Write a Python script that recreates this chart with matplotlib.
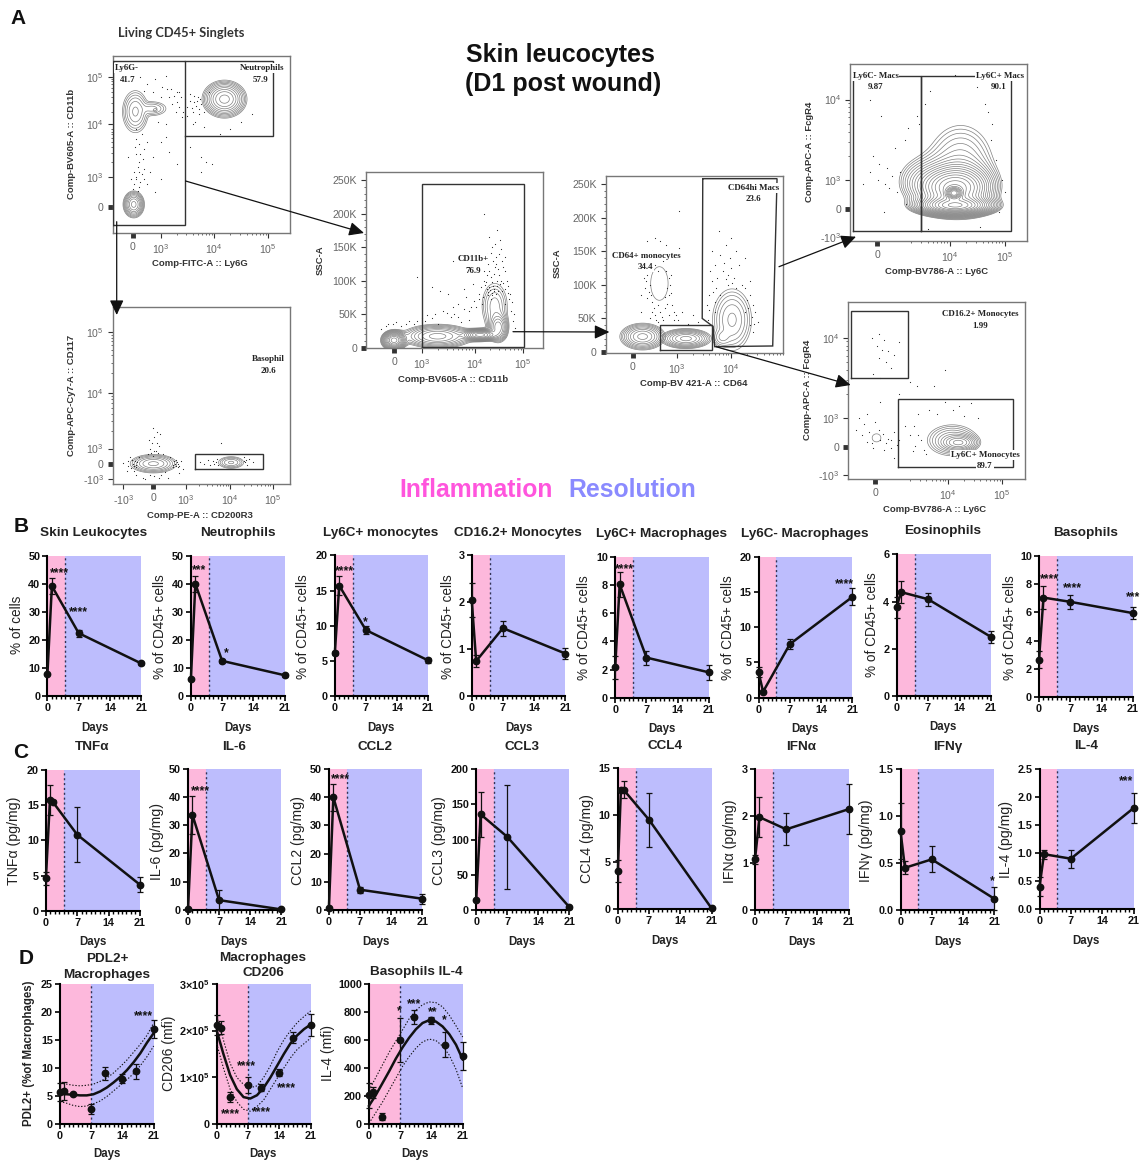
import numpy as np
import matplotlib
matplotlib.use("Agg")
import matplotlib.pyplot as plt
from matplotlib.ticker import FixedLocator

plt.rcParams['font.family'] = ['Liberation Sans', 'DejaVu Sans']
plt.rcParams['mathtext.default'] = 'regular'

W, H = 1142, 1162
PINK = '#fdb8dc'
BLUE = '#bdbdfd'
DARK = '#111111'

# ---------- panels B and C: time courses ----------
days = [0, 1, 7, 21]

skin_val = [7.8, 39.3, 22.5, 11.7]
skin_err = [0.3, 3.0, 1.2, 0.5]
neut_val = [6.2, 40, 12.6, 7.5]
neut_err = [0.3, 2.8, 0.6, 0.5]
mono_val = [6.1, 15.7, 9.4, 5.1]
mono_err = [0.3, 1.3, 0.6, 0.4]
cd16_val = [2.05, 0.75, 1.45, 0.91]
cd16_err = [0.37, 0.13, 0.16, 0.12]
macp_val = [2.15, 8.05, 2.85, 1.8]
macp_err = [0.8, 0.9, 0.5, 0.55]
macn_val = [3.6, 0.85, 7.6, 14.3]
macn_err = [0.7, 0.2, 0.7, 1.2]
eos_val = [3.75, 4.4, 4.1, 2.5]
eos_err = [0.45, 0.45, 0.27, 0.27]
baso_val = [2.65, 7.05, 6.75, 5.95]
baso_err = [0.6, 0.8, 0.5, 0.42]

tnf_days = [0, 0.9, 1.5, 7, 21]
tnf_val = [4.6, 15.7, 15.5, 10.8, 3.7]
tnf_err = [0.9, 2.1, 0.2, 3.9, 1.1]
il6_val = [0.1, 33.7, 3.4, 0.1]
il6_err = [0.1, 6.8, 3.5, 0.3]
ccl2_val = [0.8, 40, 7.2, 4]
ccl2_err = [0.2, 4.8, 1.1, 1.8]
ccl3_val = [14, 136, 104, 4]
ccl3_err = [1, 32, 74, 2]
ccl4_days = [0, 0.7, 1.3, 7, 21]
ccl4_val = [4, 12.7, 12.7, 9.5, 0.05]
ccl4_err = [1.2, 0.2, 0.9, 2.9, 0.1]
ifna_val = [1.08, 1.98, 1.72, 2.15]
ifna_err = [0.1, 0.42, 0.34, 0.53]
ifng_val = [0.84, 0.45, 0.54, 0.12]
ifng_err = [0.3, 0.07, 0.14, 0.12]
il4_val = [0.4, 0.98, 0.9, 1.8]
il4_err = [0.17, 0.08, 0.16, 0.27]

# ---------- panel D: time courses with fit ----------
d_days = [0, 1, 3, 7, 10, 14, 17, 21]
fit_days = [0, 1.5, 3, 4.5, 6, 7.5, 9, 10.5, 12, 13.5, 15, 16.5, 18, 19.5, 21]

pdl2_val = [5.7, 5.8, 5.4, 2.6, 9, 8.1, 9.4, 16.9]
pdl2_err = [1.6, 1.6, 0.2, 0.9, 1.1, 0.8, 1.3, 1.6]
pdl2_fit = [5.4, 5.3, 5.2, 5.1, 5.1, 5.3, 5.8, 6.5, 7.4, 8.4, 9.6, 11, 12.6, 14.5, 16.2]
pdl2_hi = [7.3, 7.1, 6.9, 6.8, 6.9, 7.1, 7.6, 8.2, 9.1, 10.2, 11.4, 12.8, 14.2, 15.8, 18]
pdl2_lo = [4.0, 3.7, 3.3, 3.1, 3.2, 3.6, 4.1, 4.9, 5.9, 6.9, 7.9, 9.0, 10.4, 12, 13.9]

cd206_val = [2.12e5, 2.06e5, 0.58e5, 0.83e5, 0.78e5, 1.1e5, 1.85e5, 2.12e5]
cd206_err = [0.22e5, 0.14e5, 0.1e5, 0.17e5, 0.07e5, 0.08e5, 0.12e5, 0.23e5]
cd206_fit = [2.0e5, 1.5e5, 1.05e5, 0.75e5, 0.58e5, 0.55e5, 0.62e5, 0.78e5, 1.0e5, 1.25e5, 1.5e5, 1.73e5, 1.9e5, 2.03e5, 2.13e5]
cd206_hi = [2.3e5, 1.8e5, 1.3e5, 1.0e5, 0.85e5, 0.78e5, 0.82e5, 1.0e5, 1.25e5, 1.55e5, 1.8e5, 2.0e5, 2.17e5, 2.3e5, 2.42e5]
cd206_lo = [1.72e5, 1.2e5, 0.75e5, 0.48e5, 0.32e5, 0.28e5, 0.38e5, 0.52e5, 0.75e5, 0.98e5, 1.2e5, 1.42e5, 1.6e5, 1.72e5, 1.84e5]

bil4_val = [205, 225, 50, 600, 765, 740, 565, 485]
bil4_err = [90, 40, 25, 155, 50, 25, 88, 100]
bil4_fit = [130, 205, 290, 375, 465, 545, 615, 675, 720, 740, 730, 695, 640, 565, 460]
bil4_hi = [240, 330, 420, 510, 590, 670, 750, 810, 850, 870, 865, 835, 775, 700, 620]
bil4_lo = [5, 80, 155, 240, 325, 410, 480, 540, 585, 605, 595, 555, 490, 390, 255]

# ---------- panel A: flow cytometry dots ----------
p1_dots = [(2.45,4.9),(2.62,5.0),(2.75,4.85),(2.9,4.95),(3.02,4.8),(3.1,5.02),(3.2,4.75),(3.3,4.7),(3.38,4.6),
           (3.45,4.55),(3.5,4.4),(3.55,4.65),(3.6,4.3),(3.62,4.5),(3.7,4.6),(3.72,4.25),(3.15,4.6),(3.22,4.45),
           (3.28,4.3),(3.35,4.4),(3.4,4.2),(2.55,3.75),(2.7,3.55),(2.85,3.4),(3.0,3.7),(3.15,3.5),(3.3,3.25),
           (2.4,3.4),(2.6,3.3),(2.5,3.1),(2.55,3.0),(2.62,2.9),(2.58,3.2),(2.5,2.85),(2.65,3.05),(2.7,3.15),
           (2.8,3.1),(2.55,3.45),(2.52,3.6),(2.6,3.65),(2.6,2.8),(2.48,2.75),(2.55,2.95),(2.75,2.85),(3.0,2.95),
           (3.1,3.8),(3.55,3.6),(3.75,3.4),(3.95,3.25),(3.65,4.1),(3.8,4.0),(4.1,3.85),(4.3,3.95),(4.5,4.1),
           (3.6,4.05),(3.9,4.7),(3.75,4.45),(4.7,4.25),(3.8,4.3),(2.9,2.7),(3.75,3.1),(3.85,3.3),
           (3.55,4.52),(3.58,4.38),(3.62,4.62),(3.66,4.42),(3.68,4.52),(3.72,4.35),(3.74,4.55),(3.5,4.22),(3.42,4.3),
           (3.3,4.5),(3.25,4.62),(3.35,4.7),(3.12,4.75),(3.0,4.6),(2.85,4.7),(2.7,4.72),(2.95,4.1),(3.1,4.05),
           (2.55,3.95),(2.65,3.85),(2.75,3.7),(2.62,3.45),(2.68,3.35),(2.6,3.1),(2.7,2.95),(2.58,2.72),(2.45,2.95)]
p2_dots = [(4.2,200),(4.3,165),(4.45,175),(4.5,160),(4.35,150),(4.25,140),(4.42,135),(4.55,130),(4.6,115),
           (4.4,120),(4.3,115),(4.2,100),(4.35,98),(4.5,95),(4.65,92),(4.25,88),(4.38,85),(4.45,100),(4.55,85),
           (4.7,80),(4.1,80),(4.0,70),(3.85,75),(3.7,65),(3.6,60),(3.5,80),(3.35,85),(3.2,90),(3.4,55),(3.25,50),
           (3.1,48),(3.0,44),(2.9,40),(2.75,40),(2.6,33),(2.45,35),(2.3,32),(3.7,45),(3.9,55),(4.05,60),(4.15,65),
           (4.6,65),(4.72,55),(4.75,40),(3.55,45),(3.8,88),(3.98,95),(4.1,110),(4.28,125),(4.18,75),(4.32,72),
           (4.28,78),(4.35,82),(4.3,90),(4.33,105),(4.24,98),(3.6,130),(2.9,105),(3.3,35),(2.5,38),
           (4.22,94),(4.27,83),(4.31,86),(4.34,78),(4.36,92),(4.39,88),(4.42,80),(4.44,92),(4.47,84),(4.49,108),
           (4.52,100),(4.57,96),(4.6,88),(4.63,100),(4.66,82),(4.68,72),(4.38,110),(4.42,125),(4.36,130),(4.46,118),
           (4.48,140),(4.52,148),(4.4,155),(4.32,142),(4.56,120),(4.6,135),(4.26,108),(4.2,115),(4.14,90),(4.1,72),
           (3.95,60),(3.8,58),(3.62,50),(3.48,52),(3.2,44),(3.05,40),(2.85,36),(2.7,35),(2.2,28),(2.35,36),
           (4.74,68),(4.78,50),(4.8,30),(3.9,42),(3.75,38)]
p3_dots = [(2.45,165),(2.6,170),(2.7,165),(2.8,160),(2.55,150),(2.7,150),(2.85,145),(3.05,155),(2.45,140),
           (2.6,130),(2.75,135),(2.4,110),(2.5,100),(2.48,90),(2.55,75),(2.65,70),(2.78,82),(2.82,95),(2.86,110),
           (2.9,88),(2.95,60),(2.85,55),(2.75,48),(2.65,45),(2.95,48),(3.1,60),(3.2,42),(3.3,55),(3.4,45),
           (2.35,60),(2.5,50),(3.05,210),(3.78,180),(3.65,150),(3.7,130),(3.8,145),(3.9,160),(4.0,170),(4.1,150),
           (3.85,120),(4.0,125),(4.15,130),(4.25,140),(4.35,105),(4.25,95),(4.35,85),(4.4,70),(4.45,60),(4.5,45),
           (3.65,105),(3.75,110),(3.6,85),(3.55,70),(3.7,75),(3.95,100),(4.05,110),(4.25,60),(4.35,40),(4.4,30),
           (3.58,48),(3.7,60),(2.65,120),(2.5,120),(2.35,85),
           (2.42,95),(2.44,105),(2.46,115),(2.52,85),(2.58,65),(2.6,55),(2.7,60),(2.72,52),(2.78,65),(2.82,72),
           (2.86,85),(2.88,100),(2.9,115),(2.8,120),(2.92,70),(2.98,55),(3.02,48),(2.55,60),(2.45,80),(2.62,48),
           (3.9,108),(3.95,115),(4.02,102),(4.1,95),(4.2,100),(4.3,78),(4.32,66),(4.38,52),(4.42,42),(3.6,62),
           (3.66,90),(3.72,95),(3.8,85),(3.62,120),(3.88,132),(3.98,140)]
p4_dots = [(2.6,3.3),(2.72,3.2),(2.55,3.1),(2.7,3.0),(2.82,2.95),(2.9,2.9),(2.42,2.95),(2.75,3.8),(2.55,4.0),
           (3.0,3.4),(3.18,3.5),(3.25,3.65),(2.85,3.15),(2.95,3.05),(3.05,2.85),(3.1,3.1),(3.2,2.7),(3.55,3.95),
           (3.65,4.1),(4.1,4.3),(4.5,4.15),(4.7,3.85),(4.75,3.5),(4.85,3.25),(4.95,3.0),(4.9,2.6),(4.65,3.95),
           (3.4,3.8),(3.45,3.7),(4.78,3.7),(5.0,2.85),(2.8,2.6),(3.6,2.4),(4.55,2.42)]
p5_dots = [(2.6,4.0),(2.72,4.05),(2.82,3.97),(2.68,3.9),(2.78,3.85),(2.9,3.84),(3.0,3.78),(2.72,3.75),(2.85,3.7),
           (2.95,3.62),(3.1,3.95),(2.62,3.55),(2.75,3.5),(3.3,3.45),(3.42,3.4),(3.95,3.6),(3.75,3.4),(2.5,3.05),
           (2.65,2.95),(2.35,3.0),(2.45,2.92),(2.3,2.85),(2.55,2.82),(2.75,2.72),(2.85,2.68),(2.95,2.62),(3.1,2.72),
           (3.0,2.82),(2.5,2.7),(2.42,2.78),(2.62,2.62),(3.3,2.78),(3.4,2.65),(3.5,2.72),(3.55,2.6),(3.2,2.9),
           (3.6,2.55),(3.45,3.05),(3.65,3.1),(3.8,3.05),(3.95,3.2),(4.1,3.1),(4.3,3.02),(4.55,3.0),(4.2,3.15),
           (4.42,3.18),(3.1,3.3),(2.75,3.2),(3.0,2.5),
           (2.72,2.85),(2.8,2.8),(2.9,2.74),(2.95,2.72),(3.05,2.66),(2.6,2.68),(2.82,2.6),(3.35,2.58),(3.45,2.78),
           (3.38,2.9)]
p6_dots = [(1.6,2.75),(1.72,2.7),(1.8,2.8),(1.68,2.62),(1.85,2.62),(1.95,2.85),(1.9,2.55),(2.05,2.5),(2.15,2.9),
           (2.2,3.0),(2.25,3.1),(2.3,3.2),(2.35,3.1),(2.28,3.35),(2.4,3.05),(2.3,2.95),(2.4,2.5),(2.5,2.9),
           (2.55,2.6),(2.65,2.85),(2.72,2.72),(2.78,2.8),(2.82,2.68),(2.85,2.58),(2.9,2.78),(2.95,2.65),(2.35,3.28),
           (2.18,3.15),(2.42,3.25),(1.75,2.85),(2.1,2.48),(2.6,2.5),(3.33,2.76),(3.42,2.74),(3.5,2.8),(3.55,2.72),
           (3.62,2.78),(3.7,2.82),(4.3,2.78),(4.38,2.72),(4.5,2.76),(4.42,2.82),(3.8,3.1),(4.32,2.85),
           (1.82,2.74),(1.84,2.7),(1.86,2.78),(1.88,2.72),(1.9,2.68),(1.78,2.66),(1.92,2.76),(1.7,2.78),(2.74,2.78),
           (2.76,2.74),(2.78,2.7),(2.8,2.76),(2.72,2.68),(2.84,2.74),(2.86,2.7),(2.22,2.92),(2.26,2.88),(2.34,2.95),
           (2.38,2.92),(2.3,2.52),(2.2,2.54),(2.46,2.55),(3.64,2.74),(3.68,2.76),(3.72,2.72),(4.34,2.76),(4.36,2.8)]


def axes_px(fig, x0, y0, x1, y1):
    return fig.add_axes([x0 / W, 1 - y1 / H, (x1 - x0) / W, (y1 - y0) / H])


def stars(ax, marks):
    for x, y, s in marks:
        ax.annotate(s, (x, y), xytext=(0, -2.5), textcoords='offset points', ha='center', va='center',
                    fontsize=8.8, fontweight='bold', color=DARK, annotation_clip=False, zorder=6)


def timecourse(fig, box, x, val, err, ymax, yticks, cut=4, marks=(), ylab=None, fit=None):
    ax = axes_px(fig, *box)
    ax.axvspan(0, cut, color=PINK, lw=0, zorder=0)
    ax.axvspan(cut, 21, color=BLUE, lw=0, zorder=0)
    ax.axvline(cut, color='#333355', lw=1, ls=(0, (1.5, 2)), zorder=1)
    ax.set_xlim(0, 21)
    ax.set_ylim(0, ymax)
    if fit is None:
        ax.plot(x, val, color=DARK, lw=1.8, clip_on=False, zorder=4)
    else:
        fx, fm, fh, fl = fit
        ax.plot(fx, fm, color=DARK, lw=1.8, clip_on=False, zorder=4)
        ax.plot(fx, fh, color=DARK, lw=0.8, ls=(0, (1.2, 1.6)), zorder=3)
        ax.plot(fx, fl, color=DARK, lw=0.8, ls=(0, (1.2, 1.6)), zorder=3)
    ax.errorbar(x, val, yerr=err, fmt='o', color=DARK, ms=4.6, elinewidth=0.9, capsize=2, capthick=0.9,
                clip_on=False, zorder=5)
    for line in ax.lines + list(ax.collections):
        line.set_clip_on(False)
    for s in ['top', 'right']:
        ax.spines[s].set_visible(False)
    ax.spines['left'].set_linewidth(1.5)
    ax.spines['bottom'].set_linewidth(1.5)
    ax.set_xticks([0, 7, 14, 21])
    ax.xaxis.set_minor_locator(FixedLocator([i for i in range(22) if i % 7]))
    ax.set_yticks(yticks)
    if ylab is not None:
        ax.set_yticklabels(ylab)
    ax.tick_params(which='major', length=3.6, width=1.2, labelsize=7.8, pad=1.5)
    ax.tick_params(axis='x', which='minor', length=2.2, width=1)
    for lb in ax.get_xticklabels() + ax.get_yticklabels():
        lb.set_fontweight('bold')
        lb.set_color(DARK)
    stars(ax, marks)
    return ax


def ticks_minor(positions):
    out = []
    for d in positions:
        out += [d + np.log10(k) for k in range(2, 10)]
    return out


def flow_axes(fig, box, xlim, ylim, xticks, xlabels, yticks, ylabels, xminor, yminor):
    ax = axes_px(fig, *box)
    ax.set_xlim(*xlim)
    ax.set_ylim(*ylim)
    for s in ax.spines.values():
        s.set_color('#777777')
        s.set_linewidth(1.0)
    ax.set_xticks(xticks)
    ax.set_xticklabels(xlabels)
    ax.set_yticks(yticks)
    ax.set_yticklabels(ylabels)
    ax.set_xticks(xminor, minor=True)
    ax.set_yticks(yminor, minor=True)
    ax.tick_params(which='major', length=3.5, width=0.8, labelsize=7.6, color='#333333',
                   labelcolor='#666666', pad=3)
    ax.tick_params(which='minor', length=1.6, width=0.5, color='#333333')
    # events piled up on the axis at zero
    for ticks, labels in [(ax.xaxis.get_major_ticks(), xlabels), (ax.yaxis.get_major_ticks(), ylabels)]:
        for tk, lb in zip(ticks, labels):
            if lb == '0':
                tk.tick1line.set_markeredgewidth(3.5)
                tk.tick1line.set_color('#111111')
    return ax


def density(ax, blobs, nlev, lw=0.5, color='#808080'):
    xa = np.linspace(*ax.get_xlim(), 400)
    ya = np.linspace(*ax.get_ylim(), 400)
    X, Y = np.meshgrid(xa, ya)
    Z = 0 * X
    for cx, cy, rx, ry, amp in blobs:
        sx, sy = rx / 2.65, ry / 2.65
        Z = Z + amp * np.exp(-0.5 * (((X - cx) / sx) ** 2 + ((Y - cy) / sy) ** 2))
    ax.contour(X, Y, Z / Z.max(), levels=np.geomspace(0.03, 0.85, nlev) if nlev > 1 else [0.03],
               colors=color, linewidths=lw, zorder=2)


def dots(ax, pts):
    xy = np.array(pts)
    ax.scatter(xy[:, 0], xy[:, 1], s=0.7, color='#222222', lw=0, zorder=3)


def gate(ax, xs, ys):
    ax.plot(xs, ys, color='#333333', lw=1.0, zorder=4, solid_joinstyle='miter')


def rect(ax, x0, x1, y0, y1):
    gate(ax, [x0, x1, x1, x0, x0], [y0, y0, y1, y1, y0])


t3, t4, t5 = '$10^{3}$', '$10^{4}$', '$10^{5}$'
tn3 = '-$10^{3}$'

fig = plt.figure(figsize=(W / 100, H / 100), dpi=100, facecolor='white')

# --- flow panels ---
ax1 = flow_axes(fig, (112.8, 56, 290, 233), (2.11, 5.41), (1.88, 5.41), [2.48, 3, 4, 5], ['0', t3, t4, t5],
                [2.39, 3, 4.05, 4.99], ['0', t3, t4, t5], ticks_minor([3, 4]), ticks_minor([3, 4]))
rect(ax1, 2.11, 3.45, 2.03, 5.32)
gate(ax1, [3.45, 5.09, 5.09, 3.45], [5.32, 5.32, 3.81, 3.81])
density(ax1, [(2.5, 2.45, 0.2, 0.27, 1)], 9)
density(ax1, [(2.53, 4.3, 0.24, 0.42, 1), (2.84, 4.36, 0.32, 0.17, 0.3)], 6)
density(ax1, [(2.9, 4.33, 0.035, 0.03, 1)], 1)
density(ax1, [(4.19, 4.55, 0.42, 0.38, 1)], 10)
dots(ax1, p1_dots)

ax2 = flow_axes(fig, (366, 171.7, 542.9, 348.3), (1.92, 5.33), (-1, 262.7), [2.46, 3, 4.02, 4.95],
                ['0', t3, t4, t5], [0, 50, 100, 150, 200, 250], ['0', '50K', '100K', '150K', '200K', '250K'],
                ticks_minor([3, 4]), list(np.arange(10, 260, 10)))
rect(ax2, 3, 4.97, 1.5, 244)
density(ax2, [(2.46, 11, 0.26, 16, 1), (3.3, 17, 0.85, 22, 0.32), (4.12, 19, 0.4, 10, 1),
              (4.47, 30, 0.24, 27, 0.32), (4.4, 62, 0.4, 56, 0.11)], 13)
dots(ax2, p2_dots)

ax3 = flow_axes(fig, (605.7, 176, 782.7, 352.7), (1.69, 4.87), (-1, 262), [2.19, 3, 4], ['0', t3, t4],
                [0, 50, 100, 150, 200, 250], ['0', '50K', '100K', '150K', '200K', '250K'],
                ticks_minor([3, 4]), list(np.arange(10, 260, 10)))
gate(ax3, [3.48, 3.47, 3.67, 3.70, 4.77, 4.85, 3.48], [258, 50, 38, 8, 9, 258, 258])
rect(ax3, 2.7, 3.65, 3, 40)
density(ax3, [(2.37, 23, 0.42, 20, 1)], 9)
density(ax3, [(3.17, 20, 0.47, 15, 1)], 9)
density(ax3, [(4.02, 48, 0.36, 46, 1), (3.84, 22, 0.2, 16, 0.5)], 6)
density(ax3, [(2.68, 102, 0.16, 25, 1)], 1)
dots(ax3, p3_dots)

ax4 = flow_axes(fig, (850.3, 64, 1027, 240.7), (2.19, 5.41), (2.25, 4.44), [2.68, 4, 5], ['0', t4, t5],
                [2.3, 2.64, 3, 4], [tn3, '0', t3, t4], ticks_minor([3, 4]), ticks_minor([3]))
rect(ax4, 2.24, 3.47, 2.37, 4.29)
rect(ax4, 3.47, 5.11, 2.37, 4.29)
density(ax4, [(4.2, 3.2, 1.2, 1.0, 0.1), (4.1, 2.9, 0.95, 0.4, 0.45), (4.1, 2.68, 0.95, 0.16, 0.55),
              (4.08, 2.84, 0.2, 0.1, 1), (3.4, 3.0, 0.8, 0.53, 0.06)], 24)
dots(ax4, p4_dots)

ax5 = flow_axes(fig, (848.4, 301.7, 1024.7, 478.7), (2.16, 5.42), (2.24, 4.45), [2.66, 4, 5], ['0', t4, t5],
                [2.28, 2.63, 3, 4], [tn3, '0', t3, t4], ticks_minor([3, 4]), ticks_minor([3]))
rect(ax5, 2.2, 3.26, 3.5, 4.34)
rect(ax5, 3.08, 5.2, 2.38, 3.23)
density(ax5, [(4.08, 2.72, 0.62, 0.26, 0.25), (4.2, 2.69, 0.38, 0.12, 1)], 10)
density(ax5, [(2.68, 2.75, 0.08, 0.05, 1)], 1)
dots(ax5, p5_dots)

ax6 = flow_axes(fig, (112.8, 307.3, 290, 484), (1.37, 5.34), (2.39, 5.43), [1.6, 2.28, 3, 4, 4.96],
                [tn3, '0', t3, t4, t5], [2.48, 2.74, 3, 3.95, 5], [tn3, '0', t3, t4, t5],
                ticks_minor([3, 4]), ticks_minor([3, 4]))
rect(ax6, 3.22, 4.73, 2.64, 2.91)
density(ax6, [(2.28, 2.74, 0.52, 0.16, 1)], 7)
density(ax6, [(4.02, 2.76, 0.28, 0.1, 1)], 5)
dots(ax6, p6_dots)

# --- panel B ---
timecourse(fig, (47.4, 556, 141.3, 696.3), days, skin_val, skin_err, 50, [0, 10, 20, 30, 40, 50],
           marks=[(2.6, 45, '****'), (6.9, 31.4, '****')])
timecourse(fig, (190.9, 555.7, 284.5, 696.3), days, neut_val, neut_err, 50, [0, 10, 20, 30, 40, 50],
           marks=[(1.8, 46, '***'), (8, 16.5, '*')])
timecourse(fig, (334.8, 555.3, 428, 696.3), days, mono_val, mono_err, 20, [0, 5, 10, 15, 20],
           marks=[(2.1, 18.25, '****'), (6.9, 11, '*')])
timecourse(fig, (471.7, 555.3, 565.3, 696.3), days, cd16_val, cd16_err, 3, [0, 1, 2, 3])
timecourse(fig, (615.2, 557, 709, 697.7), days, macp_val, macp_err, 10, [0, 2, 4, 6, 8, 10],
           marks=[(2.1, 9.4, '****')])
timecourse(fig, (758.6, 556.7, 852.4, 697.7), days, macn_val, macn_err, 20, [0, 5, 10, 15, 20],
           marks=[(19.2, 16.6, '****')])
timecourse(fig, (896.5, 554.3, 991, 696), days, eos_val, eos_err, 6, [0, 2, 4, 6])
timecourse(fig, (1039, 556, 1132.9, 697), days, baso_val, baso_err, 10, [0, 2, 4, 6, 8, 10],
           marks=[(2.4, 8.6, '****'), (7.5, 8.0, '****'), (21, 7.35, '***')])

# --- panel C ---
timecourse(fig, (45.9, 770, 139.9, 910.7), tnf_days, tnf_val, tnf_err, 20, [0, 5, 10, 15, 20])
timecourse(fig, (188, 769, 281.2, 909.7), days, il6_val, il6_err, 50, [0, 10, 20, 30, 40, 50],
           marks=[(2.7, 43.4, '****')])
timecourse(fig, (328.9, 769, 422.2, 910), days, ccl2_val, ccl2_err, 50, [0, 10, 20, 30, 40, 50],
           marks=[(2.6, 47.5, '****')])
timecourse(fig, (476.2, 769.3, 569.4, 910), days, ccl3_val, ccl3_err, 200, [0, 50, 100, 150, 200])
timecourse(fig, (617.8, 768.3, 711.5, 908.7), ccl4_days, ccl4_val, ccl4_err, 15, [0, 5, 10, 15])
timecourse(fig, (755, 769.3, 848.7, 910), days, ifna_val, ifna_err, 3, [0, 1, 2, 3])
timecourse(fig, (900.5, 769.3, 994.3, 910), days, ifng_val, ifng_err, 1.5, [0, 0.5, 1.0, 1.5],
           marks=[(20.6, 0.345, '*')])
timecourse(fig, (1039.5, 768.7, 1133.6, 909.3), days, il4_val, il4_err, 2.5, [0, 0.5, 1.0, 1.5, 2.0, 2.5],
           marks=[(19.4, 2.34, '***')])

# --- panel D ---
timecourse(fig, (60, 983.7, 153.7, 1124), d_days, pdl2_val, pdl2_err, 25, [0, 5, 10, 15, 20, 25], cut=7,
           marks=[(18.7, 19.9, '****')], fit=(fit_days, pdl2_fit, pdl2_hi, pdl2_lo))
timecourse(fig, (216.7, 983.7, 310.7, 1124.3), d_days, cd206_val, cd206_err, 3e5, [0, 1e5, 2e5, 3e5], cut=7,
           ylab=['0', '1×10$^{5}$', '2×10$^{5}$', '3×10$^{5}$'],
           marks=[(3, 0.29e5, '****'), (6.6, 1.31e5, '****'), (10, 0.33e5, '****'), (15.5, 0.85e5, '****')],
           fit=(fit_days, cd206_fit, cd206_hi, cd206_lo))
timecourse(fig, (369, 983.7, 462.7, 1124), d_days, bil4_val, bil4_err, 1000, [0, 200, 400, 600, 800, 1000], cut=7,
           marks=[(6.8, 831, '*'), (10, 881, '***'), (14.2, 824, '**'), (16.9, 762, '*')],
           fit=(fit_days, bil4_fit, bil4_hi, bil4_lo))

# --- overlay in pixel coordinates for text and arrows ---
ov = fig.add_axes([0, 0, 1, 1], facecolor='none')
ov.set_xlim(0, W)
ov.set_ylim(H, 0)
ov.axis('off')


def txt(x, y, s, size, weight='bold', rot=0, color=DARK, family=None):
    kw = {}
    if family is not None:
        kw['family'] = family
    ov.text(x, y, s, fontsize=size, fontweight=weight, rotation=rot, color=color, ha='center', va='center', **kw)


def arrow(x0, y0, x1, y1):
    ov.annotate('', xy=(x1, y1), xytext=(x0, y0),
                arrowprops=dict(arrowstyle='-|>,head_width=0.42,head_length=0.9', color='#111111', lw=0.9,
                                shrinkA=0, shrinkB=0))


for s, x, y in [('A', 18, 18), ('B', 21, 527), ('C', 21, 753), ('D', 26, 958)]:
    txt(x, y, s, 15)

txt(560, 55, 'Skin leucocytes', 18)
txt(563, 84, '(D1 post wound)', 18)
txt(476.5, 490, 'Inflammation', 17.8, color='#ff55dd')
txt(632, 490, 'Resolution', 17.8, color='#8a8aff')
txt(181, 33, 'Living CD45+ Singlets', 9.3, color='#333333', family='Lato')

# flow axis labels
flow_x = [(200, 264, 'Comp-FITC-A :: Ly6G'), (453.4, 380, 'Comp-BV605-A :: CD11b'), (200, 515, 'Comp-PE-A :: CD200R3'),
          (693.6, 384, 'Comp-BV 421-A :: CD64'), (936.8, 271.7, 'Comp-BV786-A :: Ly6C'), (935, 510, 'Comp-BV786-A :: Ly6C')]
flow_y = [(72, 144, 'Comp-BV605-A :: CD11b'), (320.6, 260, 'SSC-A'), (72, 395, 'Comp-APC-Cy7-A :: CD117'),
          (557, 263, 'SSC-A'), (809.4, 151.7, 'Comp-APC-A :: FcgR4'), (807, 390, 'Comp-APC-A :: FcgR4')]
for x, y, s in flow_x:
    txt(x, y, s, 6.8, color='#333333')
for x, y, s in flow_y:
    txt(x, y, s, 6.8, rot=90, color='#333333')

gate_text = [(126.7, 68, 'Ly6G-'), (128, 80, '41.7'), (262, 68, 'Neutrophils'), (261, 80, '57.9'),
             (473, 259, 'CD11b+'), (473, 271, '76.9'), (268.5, 358.7, 'Basophil'), (268.5, 370.7, '20.6'),
             (646, 256, 'CD64+ monocytes'), (645, 267, '34.4'), (753.8, 187.7, 'CD64hi Macs'), (753.8, 199, '23.6'),
             (875.5, 75.7, 'Ly6C- Macs'), (875.5, 87.3, '9.87'), (1000, 75.7, 'Ly6C+ Macs'), (999, 87.3, '90.1'),
             (980, 314, 'CD16.2+ Monocytes'), (980, 325.7, '1.99'), (985, 454.7, 'Ly6C+ Monocytes'), (985, 466, '89.7')]
for x, y, s in gate_text:
    ov.text(x, y, s, fontsize=6.4, fontweight='bold', family='Liberation Serif', ha='center', va='center',
            color='#222222', bbox=dict(fc='white', ec='none', pad=0.6), zorder=8)

arrow(185.6, 181, 364, 233)
arrow(116.7, 221.7, 116.7, 315)
arrow(513, 331.7, 609.4, 332)
arrow(779, 266.7, 856, 236.7)
arrow(716, 346.7, 850.7, 385)

# titles, day labels, y labels of the time courses
titles = [(94, 533, 'Skin Leukocytes'), (237.5, 533, 'Neutrophils'), (381, 533, 'Ly6C+ monocytes'),
          (518, 533, 'CD16.2+ Monocytes'), (662, 534, 'Ly6C+ Macrophages'), (805, 534, 'Ly6C- Macrophages'),
          (943, 531, 'Eosinophils'), (1086, 533, 'Basophils'),
          (92.5, 747, 'TNFα'), (234, 747, 'IL-6'), (375.5, 747, 'CCL2'), (522, 747, 'CCL3'),
          (665, 746, 'CCL4'), (801.6, 747, 'IFNα'), (947.6, 747, 'IFNγ'), (1086, 746, 'IL-4'),
          (107, 959, 'PDL2+'), (107, 975, 'Macrophages'), (263, 958, 'Macrophages'), (263, 973, 'CD206'),
          (416, 972, 'Basophils IL-4')]
for x, y, s in titles:
    txt(x, y, s, 9.7, color='#222222')

for x, y in [(95, 728), (238, 728), (381, 728), (519, 728), (662, 729), (805, 729), (943, 727), (1086, 729),
             (92.5, 942), (234, 942), (375.5, 942), (522, 942), (665, 941), (801.6, 942), (947.6, 942), (1086, 941),
             (107, 1154), (263, 1154), (415, 1154)]:
    txt(x, y, 'Days', 8.3, color='#222222')

ylabs_b = [(16.7, 625, '% of cells'), (160, 627, '% of CD45+ cells'), (303, 627, '% of CD45+ cells'),
           (448, 627, '% of CD45+ cells'), (584, 628, '% of CD45+ cells'), (727.6, 628, '% of CD45+ cells'),
           (871.7, 625, '% of CD45+ cells'), (1009.6, 628, '% of CD45+ cells')]
ylabs_c = [(14, 841, 'TNFα (pg/mg)'), (157, 841, 'IL-6 (pg/mg)'), (298, 841, 'CCL2 (pg/mg)'), (439, 841, 'CCL3 (pg/mg)'),
           (587.5, 839, 'CCL4 (pg/mg)'), (729.8, 841, 'IFNα (pg/mg)'), (866, 841, 'IFNγ (pg/mg)'), (1006, 839, 'IL-4 (pg/mg)')]
for x, y, s in ylabs_b:
    txt(x, y, s, 9.8, weight='normal', rot=90, color='#222222')
for x, y, s in ylabs_c:
    txt(x, y, s, 10.2, weight='normal', rot=90, color='#222222')
txt(29, 1053, 'PDL2+ (%of Macrophages)', 8.3, rot=90, color='#222222')
txt(169, 1053, 'CD206 (mfi)', 10, weight='normal', rot=90, color='#222222')
txt(328, 1053, 'IL-4 (mfi)', 10, weight='normal', rot=90, color='#222222')

fig.savefig('out.png', dpi=100)
